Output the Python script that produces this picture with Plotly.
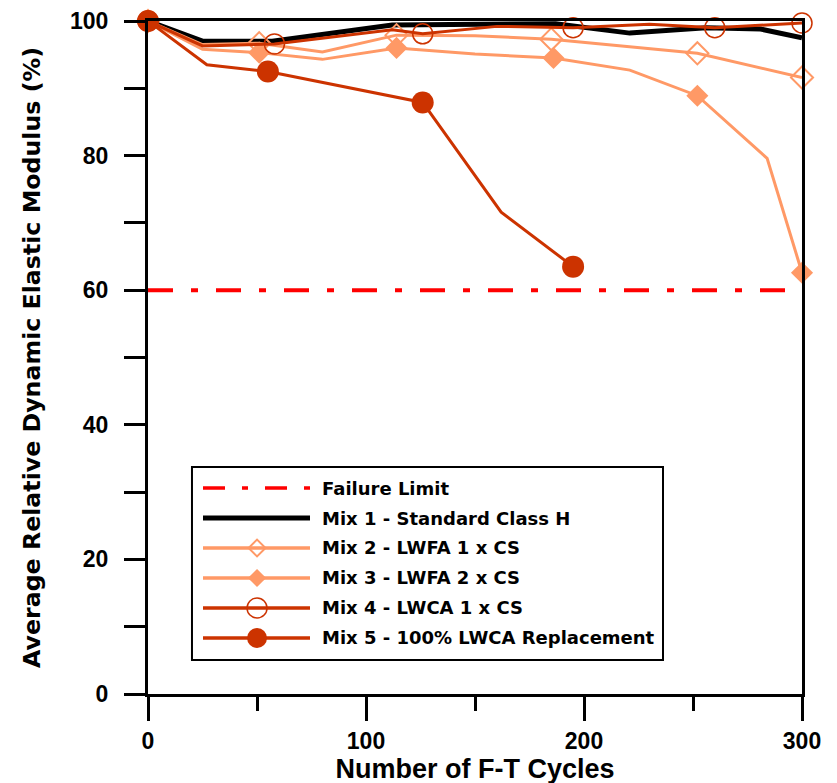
import plotly.graph_objects as go

# ---------------- data ----------------
FAIL_X = [0, 300]
FAIL_Y = [60, 60]

MIX1_X = [0, 25, 57, 112, 187, 221, 256, 281, 300]
MIX1_Y = [100, 97.0, 97.0, 99.4, 99.6, 98.2, 99.0, 98.8, 97.5]

MIX2_X = [0, 25, 51, 80, 114, 150, 185, 221, 252, 300]
MIX2_Y = [100, 96.5, 96.7, 95.4, 97.9, 97.8, 97.3, 96.2, 95.2, 91.6]
MIX2_MEASURED = [1, 0, 1, 0, 1, 0, 1, 0, 1, 1]

MIX3_X = [0, 25, 51, 80, 114, 150, 186, 221, 252, 284, 300]
MIX3_Y = [100, 95.8, 95.3, 94.3, 96.0, 95.1, 94.5, 92.7, 88.9, 79.6, 62.6]
MIX3_MEASURED = [1, 0, 1, 0, 1, 0, 1, 0, 1, 0, 1]

MIX4_X = [0, 25, 58, 112, 126, 160, 195, 230, 260, 300]
MIX4_Y = [100, 96.3, 96.6, 98.7, 98.1, 99.2, 99.0, 99.5, 99.0, 99.7]
MIX4_MEASURED = [1, 0, 1, 0, 1, 0, 1, 0, 1, 1]

MIX5_X = [0, 27, 55, 126, 162, 195]
MIX5_Y = [100, 93.5, 92.5, 87.9, 71.6, 63.5]
MIX5_MEASURED = [1, 0, 1, 1, 0, 1]

NAMES = ["Failure Limit", "Mix 1 - Standard Class H", "Mix 2 - LWFA 1 x CS",
         "Mix 3 - LWFA 2 x CS", "Mix 4 - LWCA 1 x CS", "Mix 5 - 100% LWCA Replacement"]

X_TICKS = [0, 100, 200, 300]
Y_TICKS = [0, 20, 40, 60, 80, 100]

# ---------------- styles ----------------
RED = "#FF0000"
LIGHT = "#FF9966"
DARK = "#CC3300"
AXIS_FONT = dict(family="Liberation Sans, Arial, sans-serif", size=23, color="black", weight="bold")
DASHDOT = "25px,18px,7px,18px"

STYLES = [
    dict(line=dict(color=RED, width=4, dash=DASHDOT), marker=None),
    dict(line=dict(color="black", width=5), marker=None),
    dict(line=dict(color=LIGHT, width=3),
         marker=dict(symbol="diamond-open", size=17, color=LIGHT, line=dict(width=2, color=LIGHT))),
    dict(line=dict(color=LIGHT, width=3),
         marker=dict(symbol="diamond", size=17, color=LIGHT, line=dict(width=0))),
    dict(line=dict(color=DARK, width=3),
         marker=dict(symbol="circle-open", size=20, color=DARK, line=dict(width=1.5, color=DARK))),
    dict(line=dict(color=DARK, width=3),
         marker=dict(symbol="circle", size=22, color=DARK, line=dict(width=0))),
]
LEG_MARKER_SIZE = [0, 0, 13, 14, 20, 20]
LEG_LINE_W = [3.5, 5, 3.5, 3.5, 3.5, 3.5]

fig = go.Figure()

series = [
    (FAIL_X, FAIL_Y, None),
    (MIX1_X, MIX1_Y, None),
    (MIX2_X, MIX2_Y, MIX2_MEASURED),
    (MIX3_X, MIX3_Y, MIX3_MEASURED),
    (MIX4_X, MIX4_Y, MIX4_MEASURED),
    (MIX5_X, MIX5_Y, MIX5_MEASURED),
]

for i, (xs, ys, meas) in enumerate(series):
    st = STYLES[i]
    if st["marker"] is None:
        fig.add_trace(go.Scatter(x=xs, y=ys, mode="lines", line=st["line"], name=NAMES[i],
                                 showlegend=False, cliponaxis=False))
    else:
        mk = dict(st["marker"])
        mk["opacity"] = [float(m) for m in meas]
        fig.add_trace(go.Scatter(x=xs, y=ys, mode="lines+markers", line=st["line"], marker=mk,
                                 name=NAMES[i], showlegend=False, cliponaxis=False))

# ---------------- custom legend on an overlay axis pair ----------------
# x2: sample line spans 0..1 ; y2: row index
for i, name in enumerate(NAMES):
    st = STYLES[i]
    ln = dict(st["line"])
    ln["width"] = LEG_LINE_W[i]
    if i == 0:
        ln["dash"] = "22px,17px,6px,17px"
    fig.add_trace(go.Scatter(x=[0, 1], y=[i, i], xaxis="x2", yaxis="y2", mode="lines",
                             line=ln, showlegend=False, hoverinfo="skip", cliponaxis=False))
    if st["marker"] is not None:
        mk = dict(st["marker"])
        mk["size"] = LEG_MARKER_SIZE[i]
        fig.add_trace(go.Scatter(x=[0.505], y=[i], xaxis="x2", yaxis="y2", mode="markers",
                                 marker=mk, showlegend=False, hoverinfo="skip", cliponaxis=False))
    fig.add_annotation(x=1.093, y=i, xref="x2", yref="y2", text=name, showarrow=False,
                       xanchor="left", yanchor="middle",
                       font=dict(family="DejaVu Sans, sans-serif", size=18, color="black", weight="bold"))

fig.add_shape(type="rect", xref="x2", yref="y2", x0=-0.103, x1=4.299, y0=-0.7, y1=5.733,
              line=dict(color="black", width=2), fillcolor="white", layer="below")

# page body adds an 8px offset, so margins compensate
fig.update_layout(
    width=837, height=783,
    margin=dict(l=140, r=43, t=13, b=97, autoexpand=False),
    paper_bgcolor="white", plot_bgcolor="white",
    showlegend=False,
    xaxis=dict(range=[0, 300], tickvals=X_TICKS, ticks="outside", ticklen=24, tickwidth=3,
               tickcolor="black", showline=True, linewidth=3, linecolor="black", mirror=True,
               showgrid=False, zeroline=False, tickfont=AXIS_FONT, ticklabelstandoff=0,
               automargin=False,
               minor=dict(tickvals=[50, 150, 250], ticks="outside", ticklen=14, tickwidth=3, tickcolor="black"),
               title=dict(text="Number of F-T Cycles", standoff=0,
                          font=dict(family="Liberation Sans, Arial, sans-serif", size=27, color="black", weight="bold"))),
    yaxis=dict(range=[0, 100], tickvals=Y_TICKS, ticks="outside", ticklen=21, tickwidth=3,
               tickcolor="black", showline=True, linewidth=3, linecolor="black", mirror=True,
               showgrid=False, zeroline=False, tickfont=AXIS_FONT, ticklabelstandoff=11,
               automargin=False,
               minor=dict(dtick=10, ticks="outside", ticklen=21, tickwidth=3, tickcolor="black"),
               title=dict(text="Average Relative Dynamic Elastic Modulus (%)", standoff=23,
                          font=dict(family="DejaVu Sans, sans-serif", size=23.7, color="black", weight="bold"))),
    xaxis2=dict(domain=[0, 1], range=[-0.514, 5.598], overlaying="x", visible=False, fixedrange=True,
                anchor="y2", automargin=False),
    yaxis2=dict(domain=[0, 1], range=[6.867, -15.567], overlaying="y", visible=False, fixedrange=True,
                anchor="x2", automargin=False),
)

fig.write_html("out.html")
